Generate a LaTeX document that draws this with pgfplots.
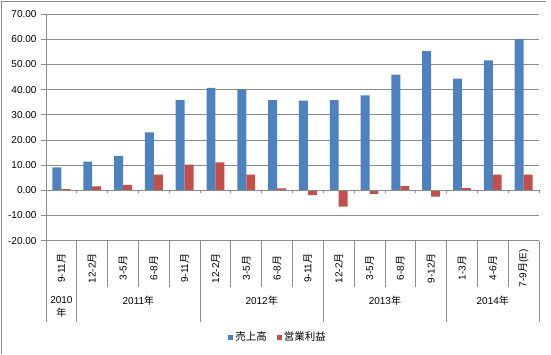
\documentclass[border=0pt]{standalone}
\usepackage{pgfplots}
\usepackage{pgfplotstable}
\pgfplotsset{compat=1.18}
\usepackage{fontspec}
\setmainfont{Liberation Sans}
\newfontfamily\jp{Noto Sans CJK JP}
\definecolor{sblue}{HTML}{4F81BD}
\definecolor{sred}{HTML}{C0504D}
\definecolor{gridc}{HTML}{8C8C8C}

\pgfplotstableread{
x sales profit
0 9.1 0.5
1 11.4 1.6
2 13.7 2.2
3 23.0 6.2
4 35.8 10.2
5 40.7 11.1
6 40.1 6.2
7 35.8 0.8
8 35.6 -1.9
9 35.8 -6.5
10 37.7 -1.5
11 45.9 1.7
12 55.3 -2.5
13 44.3 0.9
14 51.6 6.2
15 60.0 6.2
}\datatable

\begin{document}
\begin{tikzpicture}[x=1pt,y=1pt]
\useasboundingbox (0,0) rectangle (551,354);
\draw[gridc, line width=0.8pt] (1.2,0) -- (1.2,352.8) -- (546,352.8);
\begin{axis}[
  at={(46pt,113.3pt)}, anchor=south west,
  scale only axis, width=493pt, height=226.7pt,
  xmin=-0.5, xmax=15.5, ymin=-20, ymax=70,
  clip=false,
  axis x line*=bottom, axis y line*=left,
  axis line style={gridc, line width=0.8pt},
  ytick={-20,-10,0,10,20,30,40,50,60,70},
  yticklabels={-20.00,-10.00,0.00,10.00,20.00,30.00,40.00,50.00,60.00,70.00},
  y tick label style={font=\fontsize{10}{12}\selectfont, xshift=-1pt},
  tick align=outside, major tick length=5pt,
  ytick style={gridc, line width=0.8pt},
  ymajorgrids, grid style={gridc, line width=0.8pt},
  xtick={0,...,15},
  xticklabels={9-11{\jp 月},12-2{\jp 月},3-5{\jp 月},6-8{\jp 月},9-11{\jp 月},12-2{\jp 月},3-5{\jp 月},6-8{\jp 月},9-11{\jp 月},12-2{\jp 月},3-5{\jp 月},6-8{\jp 月},9-12{\jp 月},1-3{\jp 月},4-6{\jp 月},7-9{\jp 月}(E)},
  x tick label style={font=\fontsize{10}{12}\selectfont, rotate=90, anchor=center, xshift=-22.5pt},
  xtick style={draw=none},
  legend style={at={(0.4706,-0.425)}, anchor=center, draw=none, fill=none,
    legend columns=2, font=\jp\fontsize{10.5}{12}\selectfont,
    /tikz/every even column/.append style={column sep=8pt},
    legend cell align=left, inner sep=0pt},
]
\addplot[ybar, bar width=0.29, bar shift=-0.145, fill=sblue, draw=none,
  legend image code/.code={\fill[sblue] (0pt,-2.5pt) rectangle (5pt,2.5pt);}]
  table[x=x,y=sales]{\datatable};
\addlegendentry{売上高}
\addplot[ybar, bar width=0.29, bar shift=0.145, fill=sred, draw=none,
  legend image code/.code={\fill[sred] (0pt,-2.5pt) rectangle (5pt,2.5pt);}]
  table[x=x,y=profit]{\datatable};
\addlegendentry{営業利益}
\draw[gridc, line width=0.8pt] (axis cs:-0.5,0) -- (axis cs:15.5,0);
\pgfplotsinvokeforeach{-0.5,0.5,...,15.5}{
  \draw[gridc, line width=0.8pt] (axis cs:#1,0) -- (axis cs:#1,-1.2);
}
\pgfplotsinvokeforeach{0.5,1.5,...,14.5}{
  \draw[gridc, line width=0.8pt] (axis cs:#1,-20) -- (axis cs:#1,-38.3);
}
\pgfplotsinvokeforeach{-0.5,0.5,4.5,8.5,12.5,15.5}{
  \draw[gridc, line width=0.8pt] (axis cs:#1,-20) -- (axis cs:#1,-52.2);
}
\node[font=\fontsize{10}{13}\selectfont, align=center] at (axis cs:0,-46.3) {2010\\{\jp 年}};
\node[font=\fontsize{10}{12}\selectfont] at (axis cs:2.5,-43.8) {2011{\jp 年}};
\node[font=\fontsize{10}{12}\selectfont] at (axis cs:6.5,-43.8) {2012{\jp 年}};
\node[font=\fontsize{10}{12}\selectfont] at (axis cs:10.5,-43.8) {2013{\jp 年}};
\node[font=\fontsize{10}{12}\selectfont] at (axis cs:14,-43.8) {2014{\jp 年}};
\end{axis}
\end{tikzpicture}
\end{document}
